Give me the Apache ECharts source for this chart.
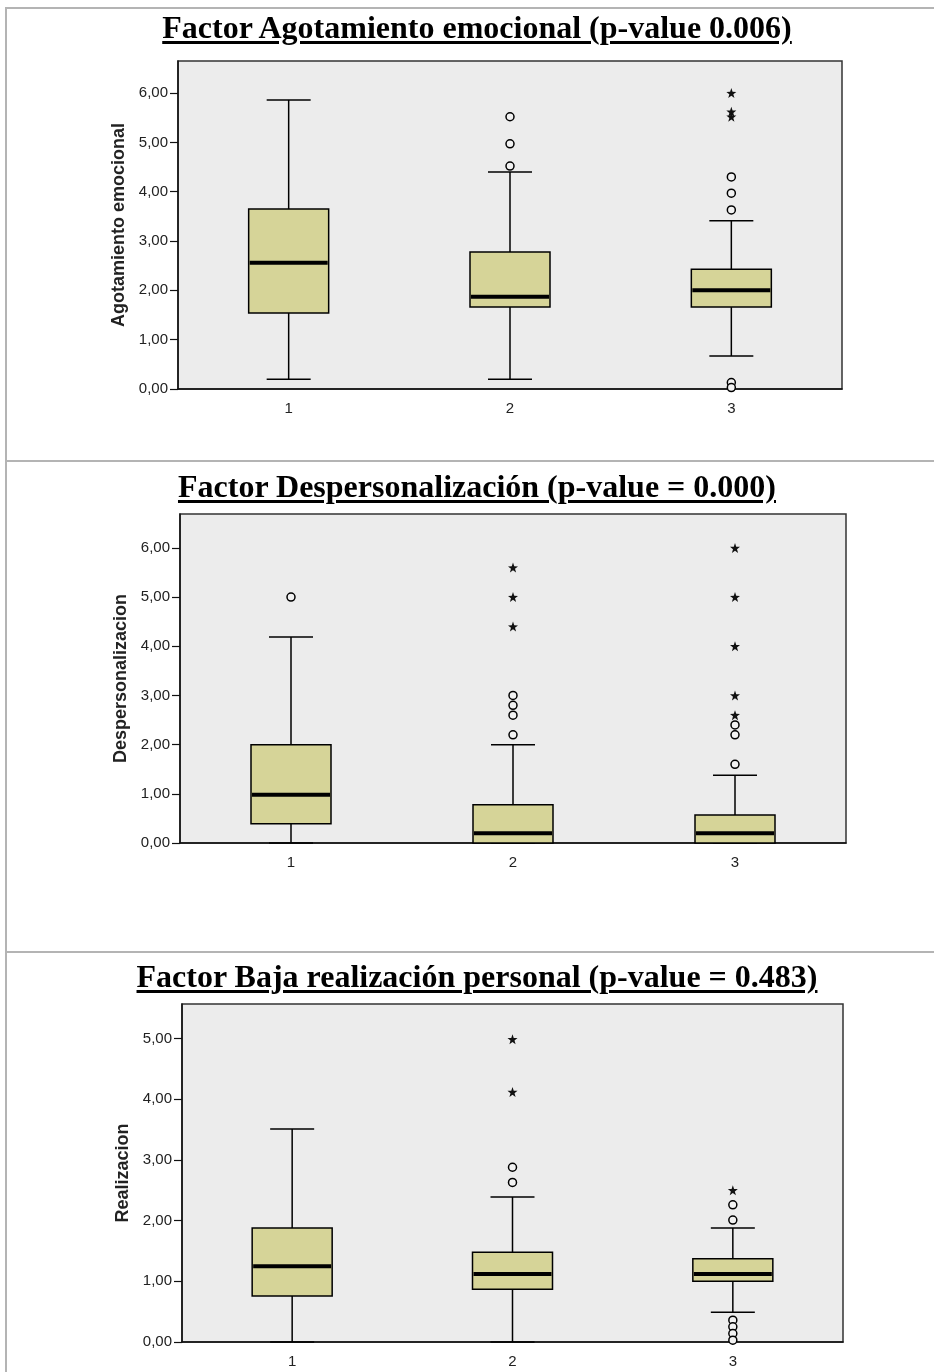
<!DOCTYPE html>
<html><head><meta charset="utf-8">
<script src="https://cdn.jsdelivr.net/npm/echarts@6/dist/echarts.min.js"></script>
<style>
html,body{margin:0;padding:0;background:#fff;}
#wrap{position:relative;width:934px;height:1372px;overflow:hidden;}
#chart{position:absolute;left:0;top:0;width:934px;height:1372px;}
.t{position:absolute;left:0;width:954px;text-align:center;font-family:'Liberation Serif','Times New Roman',serif;font-weight:bold;font-size:32px;line-height:36px;text-decoration:underline;text-decoration-thickness:3px;text-underline-offset:3px;color:#000;white-space:nowrap;z-index:2;}
.hl{position:absolute;left:5px;right:0;height:2px;background:#b4b4b4;}
.vl{position:absolute;top:7px;bottom:0;left:5px;width:2px;background:#b4b4b4;}
</style></head>
<body>
<div id="wrap">
  <div class="hl" style="top:7px"></div>
  <div class="vl"></div>
  <div class="hl" style="top:460px"></div>
  <div class="hl" style="top:951px"></div>
  <div id="chart"></div>
  <div class="t" style="top:9px">Factor Agotamiento emocional (p-value 0.006)</div>
  <div class="t" style="top:468px">Factor Despersonalización (p-value = 0.000)</div>
  <div class="t" style="top:958px">Factor Baja realización personal (p-value = 0.483)</div>
</div>
<script>
// ---- data ----
var groups = ['1', '2', '3'];
var axisNames = ['Agotamiento emocional', 'Despersonalizacion', 'Realizacion'];
var yMax = [6.65, 6.69, 5.57];
var yTicks1 = [0, 1, 2, 3, 4, 5, 6];
var yTicks2 = [0, 1, 2, 3, 4, 5, 6];
var yTicks3 = [0, 1, 2, 3, 4, 5];

// Agotamiento emocional
var ae_min = [0.20, 0.20, 0.67];
var ae_q1 = [1.54, 1.66, 1.66];
var ae_med = [2.56, 1.87, 2.00];
var ae_q3 = [3.65, 2.78, 2.43];
var ae_max = [5.86, 4.40, 3.41];
var ae_circles = [[], [5.52, 4.97, 4.52], [4.30, 3.97, 3.63, 0.13, 0.03]];
var ae_stars = [[], [], [6.00, 5.62, 5.52]];

// Despersonalizacion
var dp_min = [0, 0, 0];
var dp_q1 = [0.39, 0, 0];
var dp_med = [0.98, 0.20, 0.20];
var dp_q3 = [2.00, 0.78, 0.57];
var dp_max = [4.19, 2.00, 1.38];
var dp_circles = [[5.00], [3.00, 2.80, 2.60, 2.20], [2.40, 2.20, 1.60]];
var dp_stars = [[], [5.60, 5.00, 4.40], [6.00, 5.00, 4.00, 3.00, 2.60]];

// Realizacion
var rp_min = [0, 0, 0.49];
var rp_q1 = [0.76, 0.87, 1.00];
var rp_med = [1.25, 1.12, 1.12];
var rp_q3 = [1.88, 1.48, 1.37];
var rp_max = [3.51, 2.39, 1.88];
var rp_circles = [[], [2.88, 2.63], [2.26, 2.01, 0.36, 0.25, 0.14, 0.03]];
var rp_stars = [[], [4.99, 4.12], [2.50]];

// ---- build ----
var panels = [
  {min: ae_min, q1: ae_q1, med: ae_med, q3: ae_q3, max: ae_max, circles: ae_circles, stars: ae_stars, ticks: yTicks1},
  {min: dp_min, q1: dp_q1, med: dp_med, q3: dp_q3, max: dp_max, circles: dp_circles, stars: dp_stars, ticks: yTicks2},
  {min: rp_min, q1: rp_q1, med: rp_med, q3: rp_q3, max: rp_max, circles: rp_circles, stars: rp_stars, ticks: yTicks3}
];
var gridPos = [
  {left: 178, top: 61, width: 664, height: 328},
  {left: 180, top: 514, width: 666, height: 329},
  {left: 182, top: 1004, width: 661, height: 338}
];
var STAR = 'path://M10 0 L12.35 6.76 L19.51 6.91 L13.8 11.24 L15.88 18.09 L10 14 L4.12 18.09 L6.2 11.24 L0.49 6.91 L7.65 6.76 Z';
var FONT = "'Liberation Sans', Arial, sans-serif";

function fmt(v) { return v.toFixed(2).replace('.', ','); }

function renderBox(params, api) {
  var i = api.value(0);
  var lo = api.coord([i, api.value(1)]);
  var q1 = api.coord([i, api.value(2)]);
  var md = api.coord([i, api.value(3)]);
  var q3 = api.coord([i, api.value(4)]);
  var hi = api.coord([i, api.value(5)]);
  var x = lo[0], bw = 80, cw = 44;
  var ls = {stroke: '#000', lineWidth: 1.5, fill: null};
  return {type: 'group', children: [
    {type: 'line', shape: {x1: x, y1: hi[1], x2: x, y2: q3[1]}, style: ls},
    {type: 'line', shape: {x1: x, y1: q1[1], x2: x, y2: lo[1]}, style: ls},
    {type: 'line', shape: {x1: x - cw / 2, y1: hi[1], x2: x + cw / 2, y2: hi[1]}, style: ls},
    {type: 'line', shape: {x1: x - cw / 2, y1: lo[1], x2: x + cw / 2, y2: lo[1]}, style: ls},
    {type: 'rect', shape: {x: x - bw / 2, y: q3[1], width: bw, height: q1[1] - q3[1]}, style: {fill: '#d6d498', stroke: '#000', lineWidth: 1.5}},
    {type: 'line', shape: {x1: x - bw / 2 + 1, y1: md[1], x2: x + bw / 2 - 1, y2: md[1]}, style: {stroke: '#000', lineWidth: 4}}
  ]};
}

var grids = [], xAxes = [], yAxes = [], series = [];
panels.forEach(function (p, k) {
  grids.push(Object.assign({show: true, backgroundColor: '#ececec', borderColor: '#333', borderWidth: 1.5}, gridPos[k]));
  xAxes.push({
    type: 'category', gridIndex: k, data: groups,
    axisLine: {lineStyle: {color: '#111', width: 1.5}},
    axisTick: {alignWithLabel: true, length: 7, lineStyle: {color: '#111', width: 1.2}},
    axisLabel: {fontSize: 15, color: '#222', margin: 12, fontFamily: FONT},
    splitLine: {show: false}
  });
  yAxes.push({
    type: 'value', gridIndex: k, min: 0, max: yMax[k], interval: 1,
    name: axisNames[k], nameLocation: 'middle', nameRotate: 90, nameGap: 50,
    nameTextStyle: {fontSize: 18, fontWeight: 'bold', color: '#222', fontFamily: FONT},
    axisLine: {show: true, lineStyle: {color: '#111', width: 1.5}},
    axisTick: {show: true, length: 8, customValues: p.ticks, lineStyle: {color: '#111', width: 1.2}},
    axisLabel: {fontSize: 15, color: '#222', margin: 10, fontFamily: FONT, customValues: p.ticks, formatter: fmt},
    splitLine: {show: false}
  });
  var boxData = groups.map(function (g, i) { return [i, p.min[i], p.q1[i], p.med[i], p.q3[i], p.max[i]]; });
  series.push({type: 'custom', xAxisIndex: k, yAxisIndex: k, renderItem: renderBox, data: boxData, clip: false, z: 3});
  var cData = [], sData = [];
  p.circles.forEach(function (arr, i) { arr.forEach(function (v) { cData.push([i, v]); }); });
  p.stars.forEach(function (arr, i) { arr.forEach(function (v) { sData.push([i, v]); }); });
  series.push({type: 'scatter', xAxisIndex: k, yAxisIndex: k, data: cData, symbol: 'circle', symbolSize: 8,
    itemStyle: {color: '#f2f2f2', borderColor: '#000', borderWidth: 1.5, opacity: 1}, z: 4, clip: false});
  series.push({type: 'scatter', xAxisIndex: k, yAxisIndex: k, data: sData, symbol: STAR, symbolSize: 10,
    itemStyle: {color: '#111', opacity: 1}, z: 4, clip: false});
});

var chart = echarts.init(document.getElementById('chart'), null, {renderer: 'canvas'});
chart.setOption({
  animation: false,
  backgroundColor: 'transparent',
  grid: grids, xAxis: xAxes, yAxis: yAxes, series: series
});
</script>
</body></html>
